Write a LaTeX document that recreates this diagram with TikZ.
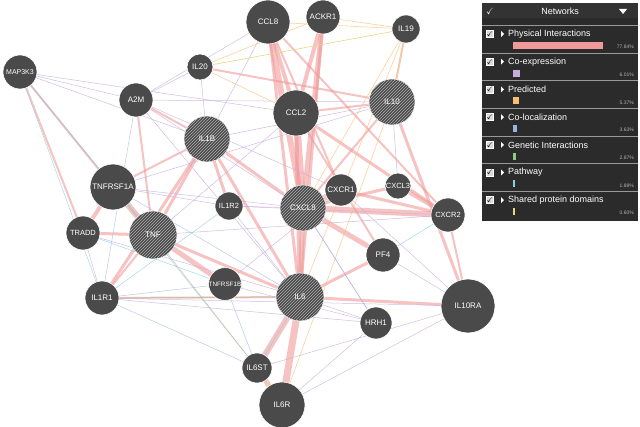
\documentclass[tikz,border=0pt]{standalone}
\usepackage{amssymb}
\usepackage{fontspec}
\setmainfont{Liberation Sans}
\usetikzlibrary{patterns}
\definecolor{PhysPink}{rgb}{0.94,0.60,0.60}
\definecolor{CoexPurple}{rgb}{0.78,0.68,0.85}
\definecolor{PredOrange}{rgb}{0.97,0.75,0.45}
\definecolor{ColocBlue}{rgb}{0.62,0.70,0.88}
\definecolor{GenGreen}{rgb}{0.55,0.80,0.50}
\definecolor{PathCyan}{rgb}{0.55,0.82,0.88}
\definecolor{DomYellow}{rgb}{0.90,0.85,0.50}
\definecolor{GeneGray}{rgb}{0.29,0.29,0.29}
\definecolor{PanelGray}{rgb}{0.17,0.17,0.17}
\tikzset{
  gene/.style={circle, fill=GeneGray, draw=white, line width=0.6pt, text=white, inner sep=0pt, font=\fontsize{8}{9}\selectfont},
  query/.style={gene, postaction={pattern=north east lines, pattern color=white!55!GeneGray}},
  phys/.style={PhysPink, opacity=0.6},
  coex/.style={CoexPurple, opacity=0.8, line width=0.5pt},
  pred/.style={PredOrange, opacity=0.7, line width=0.6pt},
  coloc/.style={ColocBlue, opacity=0.7, line width=0.5pt},
  path/.style={PathCyan, opacity=0.8, line width=0.5pt},
  legtext/.style={text=white, anchor=west, inner sep=0pt, font=\fontsize{9}{10}\selectfont},
  legpct/.style={text=white!70!black, anchor=east, inner sep=0pt, font=\fontsize{5}{6}\selectfont}
}
\begin{document}
\begin{tikzpicture}[x=1pt,y=-1pt]
  \useasboundingbox (0,0) rectangle (640,427);

  % gene positions
  \path
    (20,72) coordinate (pMAP3K3) (268,22) coordinate (pCCL8) (323,17) coordinate (pACKR1)
    (406,29) coordinate (pIL19) (200,67) coordinate (pIL20) (136,100) coordinate (pA2M)
    (296,113) coordinate (pCCL2) (392,102) coordinate (pIL10) (207,139) coordinate (pIL1B)
    (113,187) coordinate (pTNFRSF1A) (229,206) coordinate (pIL1R2) (303,208) coordinate (pCXCL8)
    (341,190) coordinate (pCXCR1) (398,186) coordinate (pCXCL3) (448,215) coordinate (pCXCR2)
    (83,233) coordinate (pTRADD) (153,235) coordinate (pTNF) (383,255) coordinate (pPF4)
    (225,284) coordinate (pTNFRSF1B) (300,297) coordinate (pIL6) (376,323) coordinate (pHRH1)
    (468,306) coordinate (pIL10RA) (102,298) coordinate (pIL1R1) (257,368) coordinate (pIL6ST)
    (282,405) coordinate (pIL6R);

  % physical interactions (thick)
  \foreach \a/\b/\w in {CCL8/CXCL8/6,CCL2/CXCL8/7,ACKR1/CXCL8/5,CCL8/CCL2/4,ACKR1/CCL2/4,
      IL6/IL6R/7,IL6ST/IL6/6,IL6ST/IL6R/5,TNF/TNFRSF1A/6,TNF/TNFRSF1B/5,TRADD/TNFRSF1A/4,
      TNF/TRADD/3,IL1B/IL1R2/3,IL1B/IL1R1/3,IL1B/TNF/3,CXCL8/CXCR1/6,CXCL8/CXCR2/6,
      CXCL3/CXCR2/4,CXCL8/PF4/5,CXCL8/IL6/5,IL10/IL10RA/3,CCL2/IL6/4,CCL8/IL6/3,
      ACKR1/IL6/3,MAP3K3/TNFRSF1A/2,MAP3K3/TRADD/2,A2M/TNF/2,IL1B/CXCL8/3,CCL2/IL10/2,
      PF4/IL6/3,CXCR1/CXCR2/3,TNF/IL6/3,IL1B/IL6/3,CCL8/CXCR2/2,CCL2/CXCR2/3,CXCL3/CXCL8/3,
      IL19/IL10/2,IL20/IL10/2,CCL8/CXCR1/2,CCL2/PF4/2,IL10/CXCL8/2,IL1R1/IL6/2,IL6/IL10RA/3,
      A2M/IL1B/2,TNF/IL1R1/2,TNFRSF1A/IL1B/2,CXCR2/IL10RA/2}
    \draw[phys, line width=\w pt] (p\a) -- (p\b);

  % co-expression
  \foreach \a/\b in {MAP3K3/A2M,MAP3K3/IL1B,MAP3K3/CCL2,A2M/IL10,A2M/CXCL8,A2M/IL6,A2M/CCL8,
      IL20/IL1B,IL20/A2M,TNFRSF1A/CXCL8,TNFRSF1A/IL10,IL1R2/CXCL8,IL1R2/IL6,TRADD/IL1R1,
      TRADD/IL6,IL1R1/IL10RA,IL1R1/HRH1,TNFRSF1B/HRH1,TNFRSF1B/CXCR1,IL6/HRH1,HRH1/CXCL8,
      IL6ST/IL10RA,IL6ST/TNF,IL6R/IL10RA,IL6R/HRH1,CCL2/TNF,IL1B/IL10,IL1B/CCL8,IL10/CXCL3,
      CXCR1/IL10RA,PF4/IL10RA,TNF/CXCR2,IL1R2/CXCR2,A2M/CXCR1,MAP3K3/TNF,TNFRSF1A/IL1R2}
    \draw[coex] (p\a) -- (p\b);

  % predicted, co-localization, pathway, domains
  \foreach \a/\b in {ACKR1/IL19,CCL8/IL19,IL20/CCL2,IL19/CXCL8,IL20/ACKR1,IL10/IL6R,IL19/IL6}
    \draw[pred] (p\a) -- (p\b);
  \foreach \a/\b in {A2M/IL1R1,IL1R1/TNFRSF1B,IL1R1/IL6ST,TNFRSF1B/IL6ST,CXCL8/HRH1,TNFRSF1A/IL6}
    \draw[coloc] (p\a) -- (p\b);
  \foreach \a/\b in {MAP3K3/IL1R1,MAP3K3/TNF,TRADD/TNFRSF1B,IL1R1/IL1R2,CXCR2/PF4,IL6/IL6ST}
    \draw[path] (p\a) -- (p\b);
  \foreach \a/\b in {IL10/IL19,IL20/IL19,IL6R/IL6ST}
    \draw[DomYellow, line width=0.6pt] (p\a) -- (p\b);
  \foreach \a/\b in {IL1R1/IL6,TNFRSF1A/IL6ST}
    \draw[GenGreen, line width=0.5pt, opacity=0.7] (p\a) -- (p\b);

  % gene nodes
  \foreach \g/\r/\s/\f in {MAP3K3/17/gene/7,CCL8/22/gene/8,ACKR1/17/gene/8,IL19/14/gene/8,IL20/13/gene/8,
      A2M/17/gene/8,CCL2/23/gene/8,IL10/23/query/8,IL1B/23/query/8,TNFRSF1A/23/gene/8,IL1R2/14/gene/7.5,
      CXCL8/23/query/8,CXCR1/16/gene/8,CXCL3/13/gene/7.5,CXCR2/17/gene/7.5,TRADD/17/gene/7.5,TNF/24/query/8,
      PF4/17/gene/8,TNFRSF1B/15/gene/6.3,IL6/24/query/8,HRH1/16/gene/8,IL10RA/27/gene/8,IL1R1/17/gene/8,
      IL6ST/15/gene/8,IL6R/23/gene/8}
    \node[\s, minimum size=2*\r pt, font=\fontsize{\f}{\f}\selectfont] (\g) at (p\g) {\g};

  % legend panel
  \fill[PanelGray] (482,3) rectangle (638,221);
  \fill[black!80] (482,3) rectangle (638,18);
  \node[text=white, font=\fontsize{9}{9}\selectfont] (legcheck) at (490,11) {$\checkmark$};
  \node[text=white, font=\fontsize{9}{10}\selectfont] (legtitle) at (560,11) {Networks};
  \fill[white] (619,9) -- (627,9) -- (623,14) -- cycle;
  \foreach \i/\lbl/\pct/\col/\len in {0/Physical Interactions/77.84\%/PhysPink/90,
      1/Co-expression/6.01\%/CoexPurple/7,2/Predicted/5.37\%/PredOrange/6,
      3/Co-localization/3.63\%/ColocBlue/4,4/Genetic Interactions/2.87\%/GenGreen/3,
      5/Pathway/1.88\%/PathCyan/2,6/Shared protein domains/0.60\%/DomYellow/1.5}{
    \pgfmathsetmacro{\yy}{34+27.7*\i}
    \draw[white!60!black, line width=0.3pt] (482,\yy-9) -- (638,\yy-9);
    \node[draw=white, fill=white!85!black, minimum size=7pt, inner sep=0pt, font=\fontsize{7}{7}\selectfont] (box\i) at (490,\yy) {$\checkmark$};
    \fill[white] (501,\yy-3) -- (504,\yy) -- (501,\yy+3) -- cycle;
    \node[legtext] (lab\i) at (508,\yy) {\lbl};
    \fill[\col] (513,\yy+8) rectangle ++(\len,7);
    \node[legpct] (pct\i) at (634,\yy+13) {\pct};
  }
\end{tikzpicture}
\end{document}
